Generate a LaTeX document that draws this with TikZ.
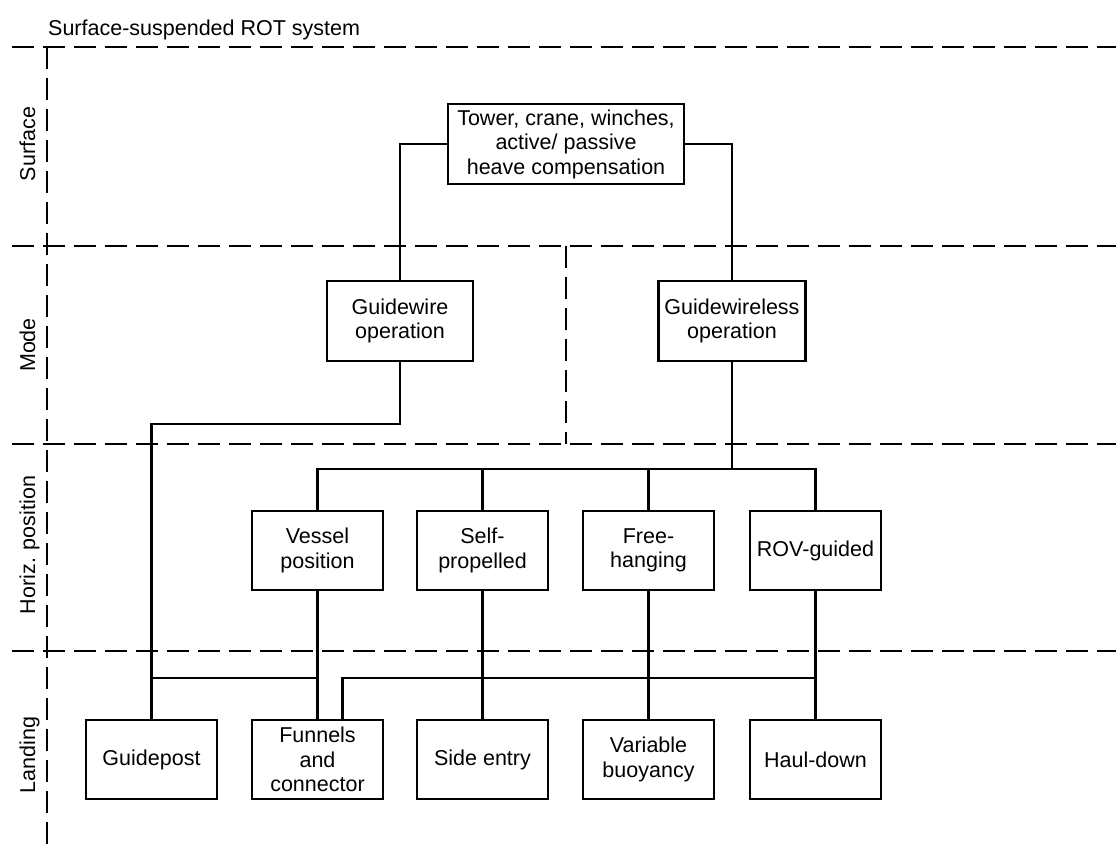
\documentclass[tikz,border=0pt]{standalone}
\usepackage{fontspec}
\setmainfont{Liberation Sans}
\newcommand\boxfont{\fontsize{21.5}{24.5}\selectfont}
\begin{document}
\begin{tikzpicture}[x=1pt,y=-1pt,
  box/.style={draw,line width=2.7pt,minimum width=131pt,minimum height=79pt,align=center,inner sep=2pt,font=\boxfont},
  conn/.style={line width=2.1pt},
  sep/.style={line width=2.4pt,dash pattern=on 22pt off 9pt},
  lbl/.style={rotate=90,anchor=base,inner sep=0pt,font=\boxfont}]
\useasboundingbox (0,0) rectangle (1116,848);
% separators
\draw[sep] (12,47) -- (1116,47);
\draw[sep] (12,246) -- (1116,246);
\draw[sep] (12,444) -- (1116,444);
\draw[sep] (12,651) -- (1116,651);
\draw[sep] (47,47) -- (47,848);
\draw[sep] (566,246) -- (566,444);
% title and row labels
\node[anchor=base west,inner sep=0pt,font=\boxfont] (title) at (48,36) {Surface-suspended ROT system};
\node[lbl] (lsurf) at (35,144) {Surface};
\node[lbl] (lmode) at (35,345) {Mode};
\node[lbl] (lhor) at (35,545) {Horiz. position};
\node[lbl] (lland) at (35,755) {Landing};
% boxes
\node[box,minimum width=236pt,minimum height=80pt] (tower) at (566,144) {Tower, crane, winches,\\active/ passive\\heave compensation};
\node[box,minimum width=146pt,minimum height=80pt] (gw) at (400,321) {Guidewire\\operation};
\node[box,minimum width=147pt,minimum height=80pt] (gwl) at (732,321) {Guidewireless\\operation};
\node[box] (vessel) at (317.5,550.5) {Vessel\\position};
\node[box] (self) at (482.5,550.5) {Self-\\propelled};
\node[box] (free) at (648.5,550.5) {Free-\\hanging};
\node[box] (rov) at (815.5,550.5) {ROV-guided};
\node[box] (guidepost) at (151.5,759.5) {Guidepost};
\node[box] (funnels) at (317.5,759.5) {Funnels\\and\\connector};
\node[box] (side) at (482.5,759.5) {Side entry};
\node[box] (var) at (648.5,759.5) {Variable\\buoyancy};
\node[box] (haul) at (815.5,759.5) {Haul-down};
% levels
\coordinate (hA) at (0,424);
\coordinate (hB) at (0,469);
\coordinate (hC) at (0,678);
% connectors
\draw[conn] (tower.west) -| (gw.north);
\draw[conn] (tower.east) -| (gwl.north);
\draw[conn] (gw.south) |- (guidepost.north |- hA) -- (guidepost.north);
\draw[conn] (gwl.south) -- (gwl.south |- hB);
\draw[conn] (vessel.north) |- (rov.north |- hB) -- (rov.north);
\draw[conn] (self.north) -- (self.north |- hB);
\draw[conn] (free.north) -- (free.north |- hB);
\draw[conn] (vessel.south) -- (funnels.north);
\draw[conn] (self.south) -- (side.north);
\draw[conn] (free.south) -- (var.north);
\draw[conn] (rov.south) -- (haul.north);
\draw[conn] (guidepost.north |- hC) -- (funnels.north |- hC);
\draw[conn] ([xshift=25pt]funnels.north) |- (haul.north |- hC);
\end{tikzpicture}
\end{document}
